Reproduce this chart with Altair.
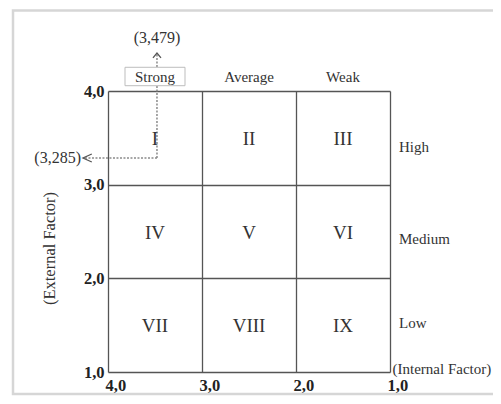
import altair as alt
import pandas as pd

# ---- data -------------------------------------------------------------
numerals = ["I", "II", "III", "IV", "V", "VI", "VII", "VIII", "IX"]
internal_mid = [3.5, 2.5, 1.5]      # column centres (Internal Factor)
external_mid = [3.5, 2.5, 1.5]      # row centres (External Factor)
col_labels = ["Strong", "Average", "Weak"]
row_labels = ["High", "Medium", "Low"]
tick_values = [1.0, 2.0, 3.0, 4.0]
score_internal = 3.479
score_external = 3.285
axis_top = 4.0
axis_right = 1.0

FONT = "Liberation Serif"
TXT = "#333333"

cells = pd.DataFrame({
    "ix": [x for _ in external_mid for x in internal_mid],
    "ey": [y for y in external_mid for _ in internal_mid],
    "label": numerals,
})
cols = pd.DataFrame({"ix": internal_mid, "ey": [axis_top] * 3, "label": col_labels})
score = pd.DataFrame({
    "ix": [score_internal], "ey": [score_external],
    "lx": [f"({score_internal:.3f})".replace(".", ",")],
    "ly": [f"({score_external:.3f})".replace(".", ",")],
})
strong = pd.DataFrame({"ix": [internal_mid[0]], "ey": [axis_top]})

label_expr = "replace(format(datum.value, '.1f'), '.', ',')"

X = alt.X(
    "ix:Q",
    scale=alt.Scale(domain=[1, 4], reverse=True, nice=False, zero=False),
    axis=alt.Axis(
        values=tick_values, grid=True, ticks=False, domain=False,
        labelExpr=label_expr, labelFont=FONT, labelFontSize=16.5,
        labelFontWeight="bold", labelColor="#222222", labelAlign="left",
        labelOffset=-3, labelPadding=5, labelBaseline="top", labelFlush=False,
        gridColor="#555555", gridWidth=1.3,
        title="(Internal Factor)", titleFont=FONT, titleFontSize=15,
        titleFontWeight="normal", titleColor=TXT, titleX=284, titleY=1,
        titleAlign="left", titleBaseline="alphabetic",
    ),
)
Y = alt.Y(
    "ey:Q",
    scale=alt.Scale(domain=[1, 4], nice=False, zero=False),
    axis=alt.Axis(
        values=tick_values, grid=True, ticks=False, domain=False,
        labelExpr=label_expr, labelFont=FONT, labelFontSize=16.5,
        labelFontWeight="bold", labelColor="#222222", labelPadding=4,
        labelBaseline="middle", labelFlush=False,
        gridColor="#555555", gridWidth=1.3,
        title="(External Factor)", titleFont=FONT, titleFontSize=16.5,
        titleFontWeight="normal", titleColor=TXT, titleX=-59, titleY=157,
        titleAngle=270, titleAlign="center", titleBaseline="middle",
    ),
)

frame = alt.Chart(strong).mark_rect(
    fillOpacity=0, stroke="#d6d6d6", strokeWidth=2.5
).encode(x=alt.value(-95), x2=alt.value(400), y=alt.value(-80.5), y2=alt.value(303))

dash = dict(color="#8a8a8a", strokeWidth=1.5, strokeDash=[2, 1.5])
leader_h = alt.Chart(score).mark_rule(**dash).encode(x=X, x2=alt.value(-25), y=Y)
leader_v = alt.Chart(score).mark_rule(**dash).encode(x=X, y=Y, y2=alt.value(-38))

box = alt.Chart(strong).mark_point(
    shape="M-1,-0.307H1V0.307H-1Z", size=3600, filled=True, fill="white",
    stroke="#bdbdbd", strokeWidth=1, opacity=1, yOffset=-14.5,
).encode(x=X, y=Y)

cell_text = alt.Chart(cells).mark_text(
    font=FONT, fontSize=19, color=TXT, baseline="middle", dy=1
).encode(x=X, y=Y, text="label:N")

col_text = alt.Chart(cols).mark_text(
    font=FONT, fontSize=15, color=TXT, baseline="alphabetic", dy=-9.5
).encode(x=X, y=Y, text="label:N")

row_dy = [13.9, 12.0, 3.1]
row_layers = []
for lab, ey, d in zip(row_labels, external_mid, row_dy):
    df = pd.DataFrame({"ix": [axis_right], "ey": [ey], "label": [lab]})
    row_layers.append(
        alt.Chart(df).mark_text(
            font=FONT, fontSize=15, color=TXT, align="left",
            baseline="alphabetic", dx=9, dy=d,
        ).encode(x=X, y=Y, text="label:N")
    )

lx_text = alt.Chart(score).mark_text(
    font=FONT, fontSize=16, color=TXT, align="center", baseline="middle"
).encode(x=X, y=alt.value(-53), text="lx:N")
ly_text = alt.Chart(score).mark_text(
    font=FONT, fontSize=16, color=TXT, align="right", baseline="middle"
).encode(x=alt.value(-27), y=Y, text="ly:N")

arrow_up = alt.Chart(score).mark_point(
    shape="M-1,1.2L0,0L1,1.2", size=64, filled=False, stroke="#555555",
    strokeWidth=1.3, opacity=1,
).encode(x=X, y=alt.value(-38))
arrow_left = alt.Chart(score).mark_point(
    shape="M2.2,-1L0,0L2.2,1", size=64, filled=False, stroke="#555555",
    strokeWidth=1.3, opacity=1,
).encode(x=alt.value(-25), y=Y)

chart = alt.layer(
    frame, leader_h, leader_v, box, cell_text, col_text, *row_layers,
    lx_text, ly_text, arrow_up, arrow_left,
).properties(
    width=282, height=281,
    padding={"left": 100, "top": 83, "right": 103, "bottom": 24},
    autosize=alt.AutoSizeParams(type="none"),
    background="white",
).configure_view(strokeWidth=0)

chart.save("out.html", embed_options={"renderer": "svg", "actions": False})
